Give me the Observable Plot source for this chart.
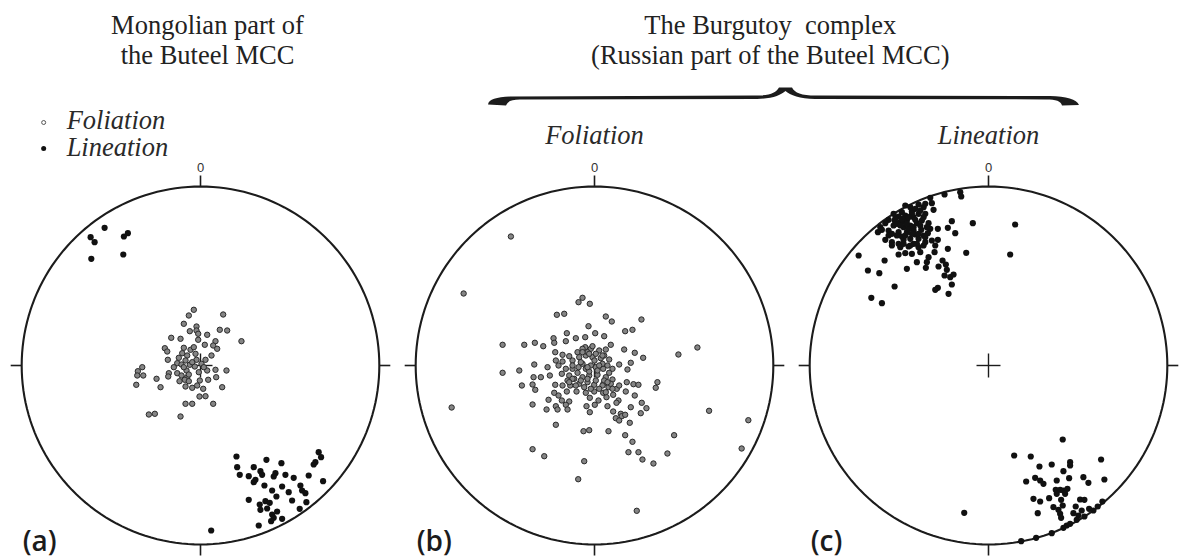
<!DOCTYPE html>
<html>
<head>
<meta charset="utf-8">
<script src="https://cdn.jsdelivr.net/npm/d3@7"></script>
<script src="https://cdn.jsdelivr.net/npm/@observablehq/plot@0.6"></script>
<style>
  html, body { margin: 0; padding: 0; background: #fff; }
  #chart { width: 1185px; height: 558px; }
</style>
</head>
<body>
<div id="chart"></div>
<script>
// ---------- DATA (positions on each stereonet: east, north; primitive circle radius = 179) ----------
const panels = ["a", "b", "c"];
const panelLetters = ["(a)", "(b)", "(c)"];
const panelHeads = ["", "Foliation", "Lineation"];
const northLabel = "0";
const titleMongolian = ["Mongolian part of", "the Buteel MCC"];
const titleRussian = ["The Burgutoy\u00A0 complex", "(Russian part of the Buteel MCC)"];
const legendLabels = ["Foliation", "Lineation"];
const netRadius = 179;

const aFoliation = [
  [-6.7,55.7],[-11.7,50],[22.7,51],[-16.7,41.7],[-4,39],[-4,35],[-10.7,34.3],[-2.3,31.7],[19.3,35.7],[26.7,35],
  [6.7,30.7],[-29.3,27.7],[-20,26.7],[-2.3,25.7],[41,24.3],[15,24.3],[12.7,20],[4.3,20.7],[-35.7,17.3],[-33.3,14],
  [-16.7,17.7],[-10,15.7],[-18.3,12.3],[-13.3,10],[-5,11.7],[16.7,16.7],[11,10],[-32.7,5.7],[-21.7,7.7],[-15,5],
  [-4,5.7],[5,5.7],[-23.3,2.3],[-19,1],[-10.7,0.7],[1,1.7],[-5.7,-1],[6.7,-5],[-14,-5],[15,-4.3],
  [26,-5],[-58.3,-1.7],[-62.7,-5.7],[-57.3,-10],[-63.3,-10],[-31.7,-7.7],[-23.3,-7.7],[-32.3,-11],[-19,-10],[-13.3,-11.7],
  [-15.7,-14.3],[-11.7,-15.7],[-44,-13.3],[-0.7,-15],[7.7,-14.3],[15.7,-11.7],[-21,-15.7],[-64.3,-19.3],[-40,-21.7],[-15,-21],
  [-8.3,-22.3],[-3.3,-20],[2.7,-23.3],[21.7,-21.7],[-1,-31],[5,-30.7],[-15,-38.3],[-8.3,-38.3],[12.7,-38.3],[-51.7,-49],
  [-45.7,-48.3],[-20,-51],[-8.3,3.3],[-1.7,-6.7],[-26.7,-1.7],[-11.7,-9],[-16.7,-1.7],[3.3,-1.7],[-6.7,18.3]
];

const aLineation = [
  [-96,137.7],[-110,128.3],[-106,123.3],[-76.7,129],[-72.7,132.3],[-77.3,111],[-109.3,106.7],
  [36,-91],[66,-94.3],[81,-97.7],[118.3,-86.7],[120.7,-91.7],[115,-96.7],[113.3,-99],[36.7,-101.7],[53.3,-101.7],
  [60,-105.7],[75,-107.7],[85,-109.3],[93.3,-112.3],[108.3,-110],[39.3,-109.3],[48.3,-110.7],[61.7,-109.3],[55,-114.3],
  [53.3,-116.7],[73.3,-111],[64,-120],[81.7,-121],[122.7,-115.7],[100,-120],[71.7,-125],[88.3,-126.7],[101.7,-125],
  [105,-127.7],[76,-131],[91.7,-135],[48.3,-134.3],[65,-135.7],[69.3,-137.3],[106,-136.7],[59.3,-139],[60,-144.3],
  [99.3,-143.3],[76.7,-146],[71.7,-149],[73.3,-152.3],[81.7,-153.3],[70.7,-155.7],[58.3,-160],[10.7,-165],[66.7,-143]
];

const bFoliation = [
  [-83.7,129],[-131,72],[-143,-42],[84,11],[103,18],[114.7,-45.3],[154,-54.7],[147.3,-83],[79.7,-69.7],[73,-88],
  [59,-98],[48,-94],[44,-86.7],[34,-86.7],[38,-76.3],[30.7,-69.7],[-10.3,-95.7],[-16.3,-113.7],[42.3,-145.3],[-62,-83.7],
  [-50.3,-90.7],
  [-12,67.7],[-16,63.3],[-4.7,61.7],[-37.7,50.7],[-30.3,51.7],[11.3,49],[17.3,44],[47,46],[-6,39.3],[30.7,34.3],
  [38,35.7],[-27.7,32.3],[-41,27.3],[-18.7,27.3],[-9.3,28.3],[0.7,32.3],[9.7,29.3],[-92,20.7],[-70.3,20.7],[-59.7,22.7],
  [-51.3,19.3],[-40.3,22.7],[-28.7,24.3],[16.3,20.7],[29.7,16],[40.3,12.7],[48.7,7.7],[-39.3,13.3],[-25.3,9.3],[-17,13.3],
  [-9.3,18.3],[-3.7,16.7],[4.7,15],[11.3,16],[-32,4],[-38.7,5],[-22,5],[-15.3,8.3],[-8.7,10],[-2,8.3],
  [6.3,7.3],[14.7,6],[24.7,1],[36.3,2.7],[33,-4],[-60.3,1],[-47,-1.7],[-92,-7.3],[-75.3,-5],[-61,-11.7],
  [-53.7,-11.7],[-44.7,-10],[-32.7,-8.3],[-25.3,-10],[-17,-7.3],[-8.7,-3.3],[-3.7,0],[1.3,-1.7],[8.7,-3.3],[14.7,-7.3],
  [-27,-15],[-20.3,-13.3],[-12,-11.7],[-5.3,-10],[3,-9.3],[11.3,-11.7],[18,-14],[-72.7,-20],[-62,-19],[-59.3,-24.3],
  [-39.3,-19.3],[-32,-20],[-24.3,-20],[-15.3,-18.3],[-7,-16.7],[-0.3,-19.3],[9,-18.3],[14,-21.7],[22.3,-23.3],[32.3,-16.7],
  [39,-18.7],[44,-19.3],[63,-16.7],[61.3,-22.3],[-40.3,-27.3],[-36,-30],[-27.7,-26],[-18,-26],[-8.7,-27.3],[-0.3,-26],
  [8.7,-27.3],[18.7,-29.3],[31.3,-26],[40.3,-30],[-46,-34.3],[-32.7,-35],[-25.3,-36],[-4.7,-32.3],[4,-35],[12,-31.7],
  [24,-35],[-62,-39],[-38.7,-40.7],[-28.7,-39.3],[-8,-40.7],[0.3,-39.3],[13,-40.7],[22,-37.3],[36.3,-41.7],[47.3,-37.3],
  [52,-42.7],[-48,-44],[-37,-44],[-27,-44],[-4.7,-46.7],[18.7,-46],[26.3,-48.3],[46.3,-47.7],[21.3,-52.7],[27.3,-50.7],
  [30.7,-49.3],[24.7,-55],[35.3,-57.3],[-38.7,-59.3],[-11,-65.7],[-5.3,-64.7],[14,-65.7],
  [-7,13.3],[0,5],[-12,1.7],[8,1.7],[-5.3,-6],[3,-5],[9.7,-15],[16.3,-18.3],[-16,-1.7],[-22,-3.3],
  [-12,16.7],[-2,19.3],[9.7,10],[-28.7,-3.3],[-36,0],[-32,10.7],
  [-12,13.3],[-5.3,11.7],[1.3,11.7],[8,10],[-22,0],[-13.7,3.3],[-7,-1.7],[4.7,0],[13,0],[18,-3.3],
  [-22,-13.3],[-13.7,-15],[-7,-13.3],[1.3,-15],[8,-20],[13,-16.7],[18,-23.3],[24.7,-20],[-3.7,-23.3],[4.7,-23.3],
  [11.3,-26.7],[-25.3,-16.7],[-18.7,-20],[-10.3,-21.7]
];

const cLineation = [
  [-44,171],[-28.3,173.3],[-27.3,169],[-58.3,167.7],[-56.7,162.3],[-55,155.7],[-70,161],[-65,158.3],[-78.3,158.3],[-76.7,154.3],
  [-86.7,153.3],[-83.3,150],[-90,149],[-94,145],[-100,145.7],[-103.3,142.3],[-108.3,138.3],[-110.7,133.3],[-95,140],[-88.3,143.3],
  [-81.7,145],[-75,148.3],[-70,151.7],[-63.3,151.7],[-85,138.3],[-78.3,140],[-71.7,142.3],[-66.7,145],[-60,142.3],[-90,133.3],
  [-81.7,133.3],[-75,135],[-67.3,135.7],[-60.7,132.3],[-100,135],[-103.3,125.7],[-96.7,123.3],[-90,121.7],[-85,125.7],[-78.3,126.7],
  [-70,126.7],[-65,130],[-88.3,118.3],[-83.3,112.3],[-90,111],[-76.7,111.7],[-70,118.3],[-65,120],[-56.7,125],[-50.7,125.7],
  [-53.3,120],[-50.7,136.7],[-40.7,137.7],[-36.7,144.3],[-33.3,132.3],[-15.7,142.3],[26.7,141],[21.7,111],[-22.3,112.7],[-40.7,116.7],
  [-54,113.3],[-60,108.3],[-61.7,103.3],[-71.7,103.3],[-81.7,96.7],[-62.7,97.7],[-50,99],[-46,105],[-42.7,101],[-41.7,95.7],
  [-44,90],[-38.3,88.3],[-35,91],[-36.7,81],[-50.7,77.7],[-53.3,75.7],[-40,71.7],[-94,79],[-104,105],[-120.7,95],
  [-109.3,92.3],[-130,110],[-117.3,67.7],[-106.7,62.3],[-63.3,161.7],[-73.3,156.7],[-96.7,131.7],
  [-91.7,141.7],[-80,136.7],[-73.3,131],[-86.7,129],[-96.7,120],[-75,121.7],[-68.3,113.3],[-63.3,123.3],[-85,144.3],[-76.7,151.7],
  [-68.3,155],[-80,119],[-58.3,136.7],[-106.7,135.7],[-83.3,160],
  [-93.3,146.7],[-86.7,146.7],[-80,148.3],[-73.3,145.7],[-65,148.3],[-88.3,140],[-81.7,141.7],[-75,138.3],[-68.3,140],[-61.7,138.3],
  [-91.7,130],[-83.3,130],[-76.7,131.7],[-70,131.7],[-63.3,128.3],[-85,121.7],[-78.3,120],[-71.7,121.7],[-100,130],[-95,151.7],
  [74.3,-74],[25.7,-90],[42.3,-91],[112.7,-94],[81.7,-96.7],[81.7,-100],[63.3,-99],[51,-101],[75,-105.7],[46.7,-112.3],
  [51.7,-115],[55,-118.3],[37.7,-116],[68.3,-115],[80.7,-112.7],[95,-111.7],[100,-117.3],[116,-114],[67.3,-124.3],[71.7,-124.3],
  [75,-125],[79,-123.3],[68.3,-128.3],[76.7,-128.3],[45,-133.3],[51.7,-136],[60.7,-132.7],[72.7,-134.3],[91.7,-134],[96,-134.3],
  [65,-141.7],[70,-144.3],[74.3,-140],[87.3,-141],[49.3,-147.7],[71.7,-148.3],[72.7,-152.3],[85,-147.7],[90,-150],[93.3,-145],
  [100.7,-143.3],[109.3,-141],[114,-136],[78.3,-160],[75,-162.3],[81.7,-158.3],[88.3,-154.3],[96,-151],[105,-145],[63.3,-167.7],
  [47.7,-172.3],[32.7,-175.7],[-24.3,-147.3]
];

// ---------- TABLES ----------
const toRows = (arr, panel) => arr.map(([e, n]) => ({panel, e, n}));
const foliation = [...toRows(aFoliation, "a"), ...toRows(bFoliation, "b")];
const lineation = [...toRows(aLineation, "a"), ...toRows(cLineation, "c")];

const R = netRadius;
const circle = panels.flatMap(p => d3.range(0, 360, 2).map(t => ({
  panel: p, e: R * Math.sin(t * Math.PI / 180), n: R * Math.cos(t * Math.PI / 180)
})));
const tickLen = 11;
const dirs = [[0, 1], [1, 0], [0, -1], [-1, 0]];
const ticks = panels.flatMap(p => dirs.map(([dx, dy]) => ({
  panel: p, x1: dx * R, y1: dy * R, x2: dx * (R + tickLen), y2: dy * (R + tickLen)
})));
const crossHalf = 12;
const cross = panels.flatMap(p => [
  {panel: p, x1: -crossHalf, y1: 0, x2: crossHalf, y2: 0},
  {panel: p, x1: 0, y1: -crossHalf, x2: 0, y2: crossHalf}
]);
const letters = panels.map((p, i) => ({panel: p, text: panelLetters[i]}));
const heads = panels.map((p, i) => ({panel: p, text: panelHeads[i]})).filter(d => d.text);
const norths = panels.map(p => ({panel: p, text: northLabel}));
const titles = [
  {panel: "a", dx: 7, text: titleMongolian.join("\n")},
  {panel: "b", dx: 176, text: titleRussian.join("\n")}
];
const legendRows = [
  {panel: "a", kind: "Foliation", text: legendLabels[0], row: 0},
  {panel: "a", kind: "Lineation", text: legendLabels[1], row: 1}
];

const serif = "'Liberation Serif', 'Times New Roman', serif";
const ink = "#1c1c1c";

const chart = Plot.plot({
  width: 1185,
  height: 558,
  marginTop: 0, marginRight: 0, marginBottom: 0, marginLeft: 2,
  fx: {domain: panels, padding: 0, axis: null},
  x: {domain: [-197.2, 197.2], axis: null},
  y: {domain: [-193, 365], axis: null},
  style: {background: "#fff", overflow: "visible"},
  marks: [
    Plot.line(circle, {x: "e", y: "n", fx: "panel", z: "panel", curve: "linear-closed", stroke: ink, strokeWidth: 2.1}),
    Plot.link(ticks, {x1: "x1", y1: "y1", x2: "x2", y2: "y2", fx: "panel", stroke: ink, strokeWidth: 1.6}),
    Plot.link(cross, {x1: "x1", y1: "y1", x2: "x2", y2: "y2", fx: "panel", stroke: ink, strokeWidth: 1.4}),
    Plot.dot(foliation, {x: "e", y: "n", fx: "panel", r: 2.7, fill: "#858585", stroke: "#2a2a2a", strokeWidth: 1}),
    Plot.dot(lineation, {x: "e", y: "n", fx: "panel", r: 3.1, fill: "#111", stroke: "none"}),
    Plot.text(norths, {x: 0, y: R + 15, fx: "panel", text: "text", fontSize: 13,
      fontFamily: "'Liberation Sans', Arial, sans-serif", fill: "#333", lineAnchor: "bottom"}),
    Plot.text(letters, {x: -R + 1, y: -185, fx: "panel", text: "text", textAnchor: "start", lineAnchor: "bottom",
      fontSize: 28, fontWeight: 600, fontFamily: "'Open Sans', 'Liberation Sans', sans-serif", fill: ink}),
    Plot.text(heads, {x: 0, y: 222, fx: "panel", text: "text", fontSize: 26.5, fontStyle: "italic",
      fontFamily: serif, fill: "#2a2a2a", lineAnchor: "bottom"}),
    Plot.text(titles, {x: "dx", y: 302, fx: "panel", text: "text", fontSize: 26.5, lineHeight: 1.1,
      fontFamily: serif, fill: "#222", lineAnchor: "bottom"}),
    // legend
    Plot.dot(legendRows.filter(d => d.kind === "Foliation"), {x: -157, y: 243, fx: "panel", r: 2, fill: "#fff", stroke: "#444", strokeWidth: 0.9}),
    Plot.dot(legendRows.filter(d => d.kind === "Lineation"), {x: -157, y: 217, fx: "panel", r: 2.5, fill: "#111"}),
    Plot.text(legendRows, {x: -134, y: d => d.row === 0 ? 237 : 210, fx: "panel", text: "text", textAnchor: "start",
      fontSize: 26.5, fontStyle: "italic", fontFamily: serif, fill: "#2a2a2a", lineAnchor: "bottom"})
  ]
});

// curly brace over panels (b) and (c)
d3.select(chart).append("path")
  .attr("d", "M488,104.5 C489,99 497,97 512,96.5 L755,95.6 C770,95.6 776,93 779,87.5 L792,87.5 C795,93 801,95.6 816,95.6 " +
             "L1050,96 C1066,96.5 1077,99 1079,105 L1062,105.5 C1061,101 1056,99.4 1046,99.4 L815,98.9 " +
             "C800,98.9 790,95 785.5,91 C781,95 772,98.9 757,98.9 L520,99.6 C512,99.6 508,101 506,105.5 Z")
  .attr("fill", ink);

document.getElementById("chart").appendChild(chart);
</script>
</body>
</html>
